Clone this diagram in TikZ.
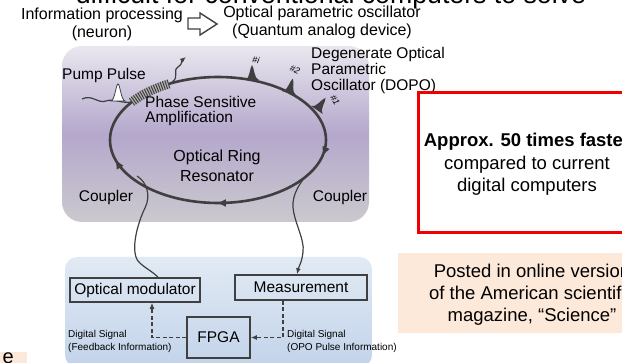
\documentclass[tikz,border=0pt]{standalone}
\usepackage{fontspec}
\setmainfont{Liberation Sans}
\usetikzlibrary{arrows.meta,decorations.markings,calc}
\definecolor{ringgray}{HTML}{3F3F3F}
\definecolor{boxgray}{HTML}{404040}
\definecolor{lavtop}{HTML}{E9E7EF}
\definecolor{lavmid}{HTML}{B5A8CC}
\definecolor{lavbot}{HTML}{CBC9CE}
\definecolor{bluetop}{HTML}{E1EAF4}
\definecolor{bluebot}{HTML}{C2D3EA}
\definecolor{alertred}{HTML}{F00000}
\definecolor{peach}{HTML}{FDE9D9}
\tikzset{
  >={Latex[length=6pt,width=5pt]},
  lbl/.style={font=\fontsize{15.5}{16}\selectfont,inner sep=0pt,align=center},
  smalllbl/.style={font=\fontsize{10}{13}\selectfont,inner sep=0pt,align=left},
  biglbl/.style={font=\fontsize{18.5}{22.5}\selectfont,inner sep=0pt,align=center},
  pulselbl/.style={font=\fontsize{9}{9}\selectfont\itshape,inner sep=0pt},
  devbox/.style={draw=boxgray,line width=1.6pt,inner sep=0pt,font=\fontsize{15.5}{16}\selectfont},
  ringline/.style={draw=ringgray,line width=2.6pt},
  ringarrows/.style={postaction={decorate,decoration={markings,
    mark=at position 0.028 with {\arrow{Triangle[length=8pt,width=7pt]}},
    mark=at position 0.25 with {\arrow{Triangle[length=8pt,width=7pt]}},
    mark=at position 0.46 with {\arrow{Triangle[length=8pt,width=7pt]}}}}},
  wire/.style={draw=ringgray,line width=1.2pt},
  sig/.style={->,draw=boxgray,line width=1.3pt,dash pattern=on 4pt off 2.5pt},
  dopo/.pic={\fill[ringgray] (-7,0) .. controls (-2,-1) and (-2.5,-12) .. (0,-15)
    .. controls (2.5,-12) and (2,-1) .. (7,0) -- cycle;}
}

\begin{document}
\begin{tikzpicture}[x=1pt,y=-1pt]
  \useasboundingbox (0,0) rectangle (622,363);
  \clip (0,0) rectangle (622,363);

  % headline, cut by the frame
  \node[font=\fontsize{26.7}{30}\selectfont,inner sep=0pt,anchor=base] (title) at (331,4) {difficult for conventional computers to solve};
  \node[lbl,font=\fontsize{16}{18}\selectfont] (neuron) at (102,24) {Information processing\\(neuron)};
  \node[lbl,font=\fontsize{16}{18}\selectfont] (opo) at (322,22) {Optical parametric oscillator\\(Quantum analog device)};
  \draw[boxgray,line width=1.4pt,fill=white] (188,18) -- (200,18) -- (200,13) -- (217,24)
    -- (200,35) -- (200,29) -- (188,29) -- cycle;

  % optical part
  \path[rounded corners=20pt,top color=lavtop,bottom color=lavbot,middle color=lavmid]
    (62,46) rectangle (369,222);
  \coordinate (ring) at (218,140);
  \draw[ringline,ringarrows] (ring) ellipse [x radius=108,y radius=63];
  \draw[line width=9pt,gray!60] plot[domain=117:143,samples=20] ({218+108*cos(\x)},{140-63*sin(\x)});
  \draw[line width=9pt,ringgray,dash pattern=on 1pt off 1.4pt] plot[domain=117:143,samples=20] ({218+108*cos(\x)},{140-63*sin(\x)});

  \pic at (252,80) {dopo};
  \pic[rotate=-15] at (289,93) {dopo};
  \pic[rotate=-35] at (317,110) {dopo};
  \node[pulselbl,rotate=-10] (pi) at (256,60) {\#i};
  \node[pulselbl,rotate=-25] (p2) at (295,70) {\#2};
  \node[pulselbl,rotate=-60] (p1) at (335,100) {\#1};

  \coordinate (pumpin) at (82,99);
  \coordinate (amp) at (132,102);
  \coordinate (ampout) at (172,82);
  \draw[wire] (pumpin) .. controls (92,94) and (98,104) .. (106,101) .. controls (114,98) and (122,104) .. (amp);
  \draw[ringgray,line width=0.8pt,fill=white] (111,101) .. controls (115,100) and (116,84) .. (118,84)
    .. controls (120,84) and (121,100) .. (125,101) -- cycle;
  \draw[wire,->] (ampout) .. controls (180,77) and (172,71) .. (178,67) .. controls (183,64) and (181,61) .. (186,57);

  \node[lbl] (pump) at (104,75) {Pump Pulse};
  \node[lbl,align=left,anchor=north west,font=\fontsize{15.5}{15}\selectfont] (psa) at (145,96) {Phase Sensitive\\Amplification};
  \node[lbl,font=\fontsize{16}{20}\selectfont] (ringlbl) at (217,166) {Optical Ring\\Resonator};
  \node[lbl,align=left,anchor=north west] (dopolbl) at (311,47) {Degenerate Optical\\Parametric\\Oscillator (DOPO)};
  \node[lbl] (cplLlbl) at (106,197) {Coupler};
  \node[lbl] (cplRlbl) at (340,197) {Coupler};

  % electronic part
  \path[rounded corners=12pt,top color=bluetop,bottom color=bluebot] (65,257) rectangle (372,367);
  \node[devbox,minimum width=130pt,minimum height=24pt] (mod) at (135,290) {Optical modulator};
  \node[devbox,minimum width=132pt,minimum height=25pt] (meas) at (301,287.5) {Measurement};
  \node[devbox,minimum width=63pt,minimum height=41pt] (fpga) at (218.5,337.5) {FPGA};
  \draw[sig] ([xshift=-18pt]meas.south) |- (fpga.east);
  \draw[sig] (fpga.west) -| ([xshift=17pt]mod.south);
  \node[smalllbl,anchor=west] (fbsig) at (68,341) {Digital Signal\\(Feedback Information)};
  \node[smalllbl,anchor=west] (oposig) at (287,341) {Digital Signal\\(OPO Pulse Information)};

  % couplers
  \coordinate (cplL) at (137,176);
  \coordinate (cplR) at (308,174);
  \draw[wire] (cplL) .. controls (147,182) and (151,196) .. (145,208) .. controls (138,222) and (130,250) .. (138,261)
    .. controls (143,267) and (152,271) .. ([xshift=23pt]mod.north);
  \draw[wire,->] (cplR) .. controls (300,182) and (292,195) .. (293,207) .. controls (294,222) and (305,240) .. (303,252)
    .. controls (302,262) and (299,266) .. ([xshift=-4pt]meas.north);

  % notes on the right
  \node[draw=alertred,line width=3pt,minimum width=217pt,minimum height=140pt,inner sep=0pt] (fast) at (527,163) {};
  \node[biglbl] (fasttxt) at (527,164.5) {\textbf{Approx. 50 times faster}\\compared to current\\digital computers};
  \node[fill=peach,minimum width=268pt,minimum height=80pt,inner sep=0pt] (science) at (532,293) {};
  \node[biglbl,font=\fontsize{18.5}{22}\selectfont] (scitxt) at (532,295) {Posted in online version\\of the American scientific\\magazine, “Science”};
  \node[fill=peach,minimum width=60pt,minimum height=24pt,inner sep=0pt] (note) at (-3,364) {};
  \node[lbl,font=\fontsize{20}{20}\selectfont,anchor=east] (notetxt) at (14,358) {e};
\end{tikzpicture}
\end{document}
